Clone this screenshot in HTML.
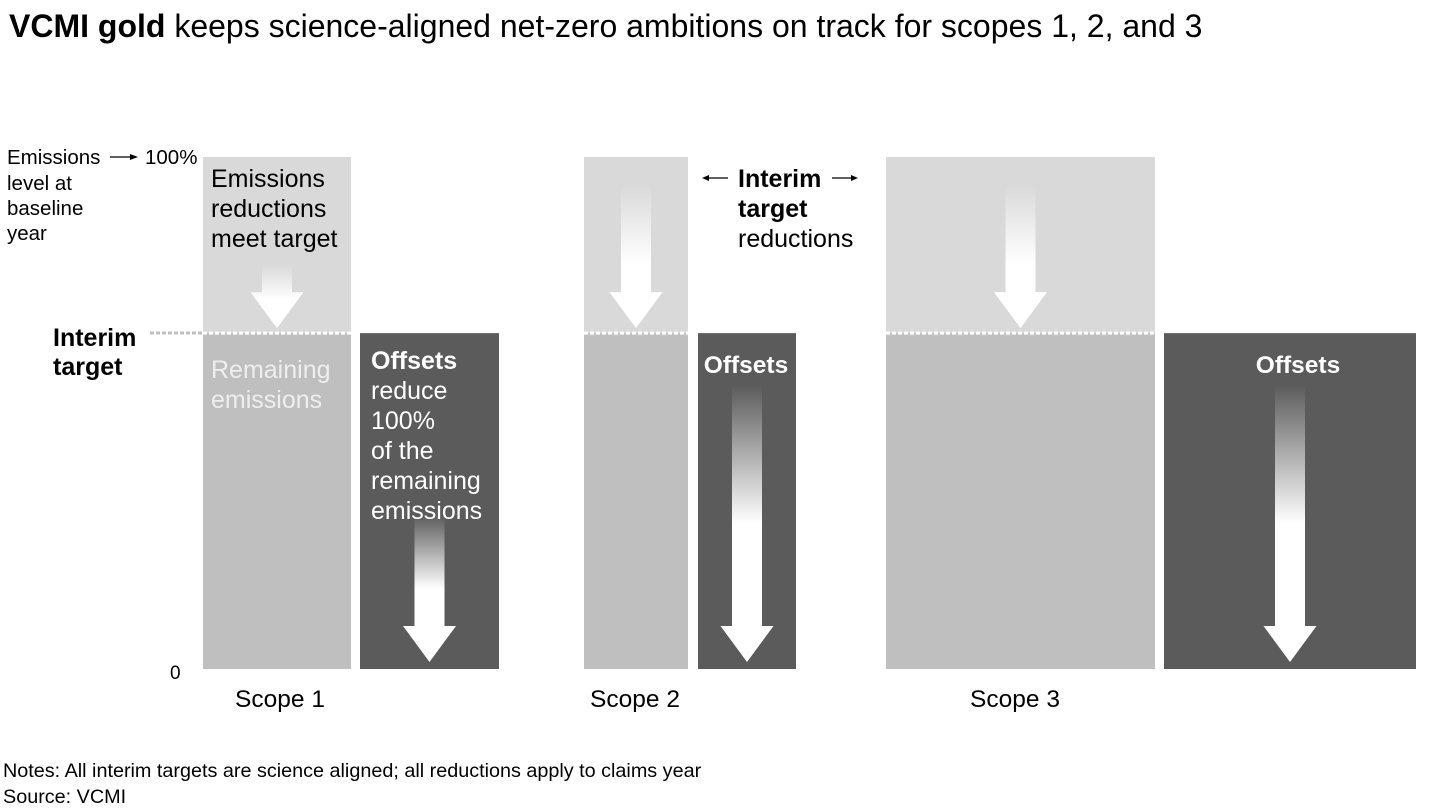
<!DOCTYPE html>
<html><head><meta charset="utf-8">
<style>
body{margin:0;background:#fff;font-family:"Liberation Sans",Arial,sans-serif;}
svg{display:block}
text{font-family:"Liberation Sans",Arial,sans-serif;}
</style></head>
<body>
<svg id="chart" width="1440" height="810" viewBox="0 0 1440 810" xmlns="http://www.w3.org/2000/svg">
<defs>
<linearGradient id="gl" x1="0" y1="0" x2="0" y2="1"><stop offset="0" stop-color="#fff" stop-opacity="0"/><stop offset="0.55" stop-color="#fff" stop-opacity="1"/></linearGradient>
<linearGradient id="gd" x1="0" y1="0" x2="0" y2="1"><stop offset="0" stop-color="#fff" stop-opacity="0"/><stop offset="0.5" stop-color="#fff" stop-opacity="1"/></linearGradient>
</defs>
<text x="9" y="37" font-size="32" fill="#000"><tspan font-weight="bold">VCMI gold</tspan> keeps science-aligned net-zero ambitions on track for scopes 1, 2, and 3</text>
<g id="bars"></g>
<g font-size="20.5" fill="#000">
<text x="7" y="164">Emissions</text>
<line x1="110" y1="157" x2="132" y2="157" stroke="#000" stroke-width="1.2"/>
<polygon points="138,157 130,154 130,160" fill="#000"/>
<text x="145" y="164">100%</text>
<text x="7" y="190">level at</text>
<text x="7" y="215">baseline</text>
<text x="7" y="240">year</text>
<text x="170" y="679" font-size="19">0</text>
</g>
<g font-size="25" font-weight="bold" fill="#000">
<text x="53" y="346">Interim</text><text x="53" y="375">target</text>
</g>
<line x1="150" y1="333" x2="203" y2="333" stroke="#bfbfbf" stroke-width="3" stroke-dasharray="4,2"/>
<g font-size="25">
<text x="211" y="187" fill="#000">Emissions</text>
<text x="211" y="217" fill="#000">reductions</text>
<text x="211" y="247" fill="#000">meet target</text>
<text x="211" y="378" fill="#eeeeee">Remaining</text>
<text x="211" y="408" fill="#eeeeee">emissions</text>
<text x="371" y="369" fill="#fff" font-weight="bold">Offsets</text>
<text x="371" y="399" fill="#fff">reduce</text>
<text x="371" y="429" fill="#fff">100%</text>
<text x="371" y="459" fill="#fff">of the</text>
<text x="371" y="489" fill="#fff">remaining</text>
<text x="371" y="519" fill="#fff">emissions</text>
</g>
<g font-size="25" fill="#000">
<line x1="708" y1="178" x2="728" y2="178" stroke="#000" stroke-width="1.2"/><polygon points="702,178 709,175 709,181" fill="#000"/>
<text x="738" y="187" font-weight="bold">Interim</text>
<line x1="832" y1="178" x2="852" y2="178" stroke="#000" stroke-width="1.2"/><polygon points="858,178 851,175 851,181" fill="#000"/>
<text x="738" y="217" font-weight="bold">target</text>
<text x="738" y="247">reductions</text>
</g>
<g font-size="24.5" font-weight="bold" fill="#fff">
<text x="746" y="373" text-anchor="middle">Offsets</text>
<text x="1298" y="373" text-anchor="middle">Offsets</text>
</g>
<g id="xlabels" font-size="24.5" fill="#000"></g>
<text x="3" y="777" font-size="19.8" fill="#000">Notes: All interim targets are science aligned; all reductions apply to claims year</text>
<text x="3" y="803" font-size="19.8" fill="#000">Source: VCMI</text>
</svg>
<script>
const scopes = ["Scope 1", "Scope 2", "Scope 3"];
const baseline = [100, 100, 100];
const interim = [65.6, 65.6, 65.6];
const offsets = [65.6, 65.6, 65.6];
// layout (not data)
const Y0 = 669, Y100 = 157;
function y(v){ return Y0 - (Y0 - Y100) * v / 100; }
const layout = [
  {rx:203, rw:148, ox:360, ow:139, lx:280, rArrowTop:265, oArrowTop:515},
  {rx:584, rw:104, ox:698, ow:98, lx:635, rArrowTop:185, oArrowTop:385},
  {rx:886, rw:269, ox:1164, ow:252, lx:1015, rArrowTop:185, oArrowTop:385}
];
const NS = "http://www.w3.org/2000/svg";
const g = document.getElementById('bars');
function mk(tag, attrs, parent){ const e=document.createElementNS(NS,tag); for(const k in attrs) e.setAttribute(k,attrs[k]); (parent||g).appendChild(e); return e; }
function arrow(cx, top, tip, grad, parent){
  const head = 36, hw = 26.5, sw = 15;
  const hb = tip - head;
  const p = `M${cx-sw},${top} L${cx+sw},${top} L${cx+sw},${hb} L${cx+hw},${hb} L${cx},${tip} L${cx-hw},${hb} L${cx-sw},${hb} Z`;
  return mk('path',{d:p, fill:`url(#${grad})`}, parent);
}
scopes.forEach((s,i)=>{
  const L = layout[i];
  const red = mk('rect',{x:L.rx, y:y(baseline[i]), width:L.rw, height:y(interim[i])-y(baseline[i]), fill:'#d9d9d9'});
  
  
  const rem = mk('rect',{x:L.rx, y:y(interim[i]), width:L.rw, height:Y0-y(interim[i]), fill:'#bfbfbf'});
  
  
  const dl = mk('line',{x1:L.rx, y1:y(interim[i]), x2:L.rx+L.rw, y2:y(interim[i]), stroke:'#fff', 'stroke-width':3, 'stroke-dasharray':'4,2'});
  
  
  const off = mk('rect',{x:L.ox, y:y(offsets[i]), width:L.ow, height:Y0-y(offsets[i]), fill:'#5b5b5b'});
  
  
  const ra = arrow(L.rx+L.rw/2, L.rArrowTop, y(interim[i])-5, 'gl');
  
  
  const oa = arrow(L.ox+L.ow/2, L.oArrowTop, Y0-7, 'gd');
  
  
  const t = mk('text',{x:L.lx, y:707, 'text-anchor':'middle'}, document.getElementById('xlabels'));
  t.textContent = s;
  
  
});
</script>
</body></html>
